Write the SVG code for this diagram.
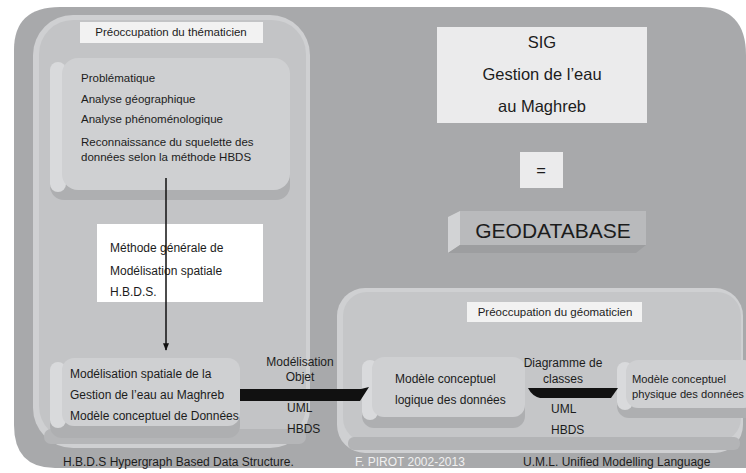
<svg xmlns="http://www.w3.org/2000/svg" width="746" height="473" viewBox="0 0 746 473">
<defs>
<style>
text{font-family:"Liberation Sans",Arial,sans-serif;fill:#1c1c1c;font-size:12px}
.c{text-anchor:middle}
.s{font-size:11.5px}
.big{font-size:16.5px}
.face{fill:#cfd0d2}
.shadow{fill:#aeafb1}
.side{fill:#d9dadc}
.lbl{fill:#f2f2f2}
</style>
<marker id="ah" viewBox="0 0 10 10" refX="9" refY="5" markerWidth="5" markerHeight="5" orient="auto">
<path d="M0,1 L10,5 L0,9 z" fill="#111"/>
</marker>
</defs>
<rect width="746" height="473" fill="#ffffff"/>
<path d="M60,7 H700 Q746,7 746,55 V468 H55 Q14,468 14,425 V50 Q14,7 60,7 Z" fill="#a8a9ab"/>

<g id="panel-thematicien">
<rect x="33" y="15" width="277" height="433" rx="40" fill="#cfd0d2"/>
<rect x="39" y="20" width="267" height="420" rx="34" fill="#c3c4c6"/>
<rect x="44" y="429" width="262" height="15" rx="7" fill="#b5b6b8"/>
<rect x="80" y="22" width="183" height="21" class="lbl"/>
<text x="171" y="36" class="c s">Préoccupation du thématicien</text>
</g>

<g id="node-problematique">
<rect x="50" y="66" width="240" height="134" rx="14" class="shadow"/>
<rect x="50" y="62" width="16" height="130" rx="8" class="side"/>
<rect x="62" y="58" width="228" height="132" rx="16" class="face"/>
<text x="81" y="82" class="s">Problématique</text>
<text x="81" y="103" class="s">Analyse géographique</text>
<text x="81" y="123" class="s">Analyse phénoménologique</text>
<text x="81" y="146" class="s">Reconnaissance du squelette des</text>
<text x="81" y="161" class="s">données selon la méthode HBDS</text>
</g>

<g id="node-methode">
<rect x="97" y="224" width="166" height="78" fill="#ffffff"/>
<text x="110" y="252">Méthode générale de</text>
<text x="110" y="275">Modélisation spatiale</text>
<text x="110" y="296">H.B.D.S.</text>
</g>

<g id="node-modelisation">
<rect x="50" y="366" width="190" height="72" rx="12" class="shadow"/>
<rect x="50" y="362" width="16" height="66" rx="8" class="side"/>
<rect x="62" y="358" width="178" height="68" rx="12" class="face"/>
<text x="70" y="378">Modélisation spatiale de la</text>
<text x="70" y="399">Gestion de l’eau au Maghreb</text>
<text x="70" y="420">Modèle conceptuel de Données</text>
</g>

<g id="panel-geomaticien">
<rect x="337" y="288" width="406" height="165" rx="28" fill="#cfd0d2"/>
<rect x="343" y="292" width="398" height="150" rx="24" fill="#c5c6c8"/>
<rect x="348" y="437" width="392" height="13" rx="6" fill="#b3b4b6"/>
<rect x="467" y="302" width="175" height="20" class="lbl"/>
<text x="555" y="316" class="c s">Préoccupation du géomaticien</text>
</g>

<g id="node-logique">
<rect x="362" y="365" width="163" height="63" rx="12" class="shadow"/>
<rect x="362" y="360" width="16" height="60" rx="8" class="side"/>
<rect x="372" y="357" width="153" height="60" rx="12" class="face"/>
<text x="395" y="383">Modèle conceptuel</text>
<text x="395" y="404">logique des données</text>
</g>

<g id="node-physique">
<rect x="617" y="366" width="140" height="52" rx="12" class="shadow"/>
<rect x="617" y="362" width="16" height="48" rx="8" class="side"/>
<rect x="626" y="360" width="130" height="48" rx="12" class="face"/>
<text x="632" y="383" style="font-size:11.2px">Modèle conceptuel</text>
<text x="632" y="398" style="font-size:11.2px">physique des données</text>
</g>

<g id="node-sig">
<rect x="437" y="27" width="210" height="96" fill="#ebebec"/>
<text x="542" y="48" class="c big">SIG</text>
<text x="542" y="80" class="c big">Gestion  de l’eau</text>
<text x="542" y="112" class="c big">au Maghreb</text>
</g>

<g id="node-egal">
<rect x="520" y="152" width="43" height="36" fill="#ebebec"/>
<text x="541" y="176" class="c big">=</text>
</g>

<g id="node-geodatabase">
<path d="M448,217 L460,211 V245 L448,253 Z" fill="#d2d3d5"/>
<path d="M448,253 L460,245 H646 L636,253 Z" fill="#9d9ea0"/>
<rect x="460" y="211" width="186" height="34" fill="#b9babc"/>
<text x="553" y="238" class="c" style="font-size:21px">GEODATABASE</text>
</g>

<g id="connectors">
<line x1="166" y1="178" x2="166" y2="350" stroke="#111" stroke-width="1.5" marker-end="url(#ah)"/>
<path d="M240,389 H361 L369,387 L360,401 H240 Z" fill="#111"/>
<path d="M528,388 L618,388 L611,398 L540,398 Q532,396 528,388 Z" fill="#111"/>
<text x="300" y="366" class="c">Modélisation</text>
<text x="300" y="381" class="c">Objet</text>
<text x="287" y="412">UML</text>
<text x="287" y="433">HBDS</text>
<text x="563" y="367" class="c">Diagramme de</text>
<text x="563" y="383" class="c">classes</text>
<text x="551" y="413">UML</text>
<text x="551" y="434">HBDS</text>
</g>

<text x="63" y="466">H.B.D.S Hypergraph Based Data Structure.</text>
<text x="355" y="466" style="fill:#f0f0f0">F. PIROT 2002-2013</text>
<text x="523" y="466">U.M.L. Unified Modelling Language</text>
</svg>
